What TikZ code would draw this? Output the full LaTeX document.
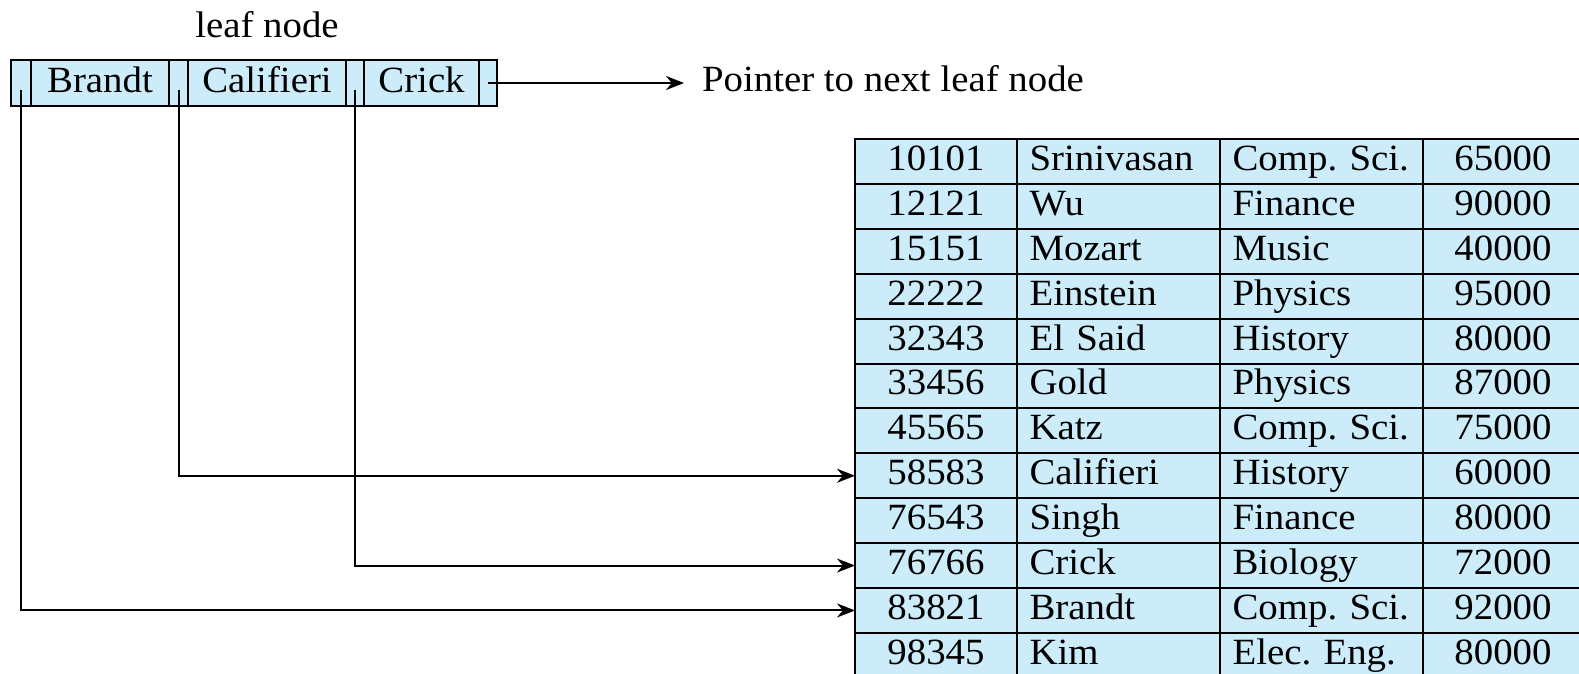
\documentclass[tikz,border=0pt]{standalone}
\usepackage{fontspec}
\setmainfont{Liberation Serif}[FakeStretch=1.05]
\usetikzlibrary{positioning,arrows.meta}
\definecolor{leafBlue}{RGB}{204,236,249}
\frenchspacing

\begin{document}
\begin{tikzpicture}[x=0.5pt,y=-0.5pt,line width=1pt,
		font=\fontsize{18.5}{22}\selectfont,
		txt/.style={inner sep=0pt,outer sep=0pt,text height=13pt,text depth=4pt},
		box/.style={txt,draw,fill=leafBlue,minimum height=23pt,text depth=3pt},
		row/.style={txt,draw,fill=leafBlue,minimum height=22.45pt},
		idcell/.style={row,minimum width=81pt},
		leftcell/.style={row,text width=89pt,inner xsep=6.25pt,align=left},
		salcell/.style={row,minimum width=80pt},
		ptr/.style={line width=1pt,-{Stealth[length=9pt,width=7pt]}}]
		\useasboundingbox (0,0) rectangle (1579,674);
		%\draw[help lines,step=50] (0,0) grid (1579,674);

		% the leaf node
		\node[box,minimum width=10pt,anchor=north west] (p1) at (11,60) {};
		\node[box,minimum width=69pt,right=0pt of p1] (k1) {Brandt};
		\node[box,minimum width=9.5pt,right=0pt of k1] (p2) {};
		\node[box,minimum width=79pt,right=0pt of p2] (k2) {Califieri};
		\node[box,minimum width=9pt,right=0pt of k2] (p3) {};
		\node[box,minimum width=57.5pt,right=0pt of p3] (k3) {Crick};
		\node[box,minimum width=9pt,right=0pt of k3] (p4) {};
		\node[txt,above=7pt of k2] (leaflabel) {leaf node};
		\node[txt,anchor=west,inner xsep=9pt] (nextleaf) at (684,83) {Pointer to next leaf node};

		% the file of records
		\foreach \id/\name/\dept/\sal [count=\r] in {10101/Srinivasan/Comp. Sci./65000,
				12121/Wu/Finance/90000, 15151/Mozart/Music/40000,
				22222/Einstein/Physics/95000, 32343/El Said/History/80000,
				33456/Gold/Physics/87000, 45565/Katz/Comp. Sci./75000,
				58583/Califieri/History/60000, 76543/Singh/Finance/80000,
				76766/Crick/Biology/72000, 83821/Brandt/Comp. Sci./92000,
				98345/Kim/Elec. Eng./80000} {
			\pgfmathsetmacro{\rowy}{139+(\r-0.5)*44.9}
			\node[idcell] (id\r) at (936,\rowy) {\id};
			\node[leftcell,right=0pt of id\r] (name\r) {\mbox{\name}};
			\node[leftcell,right=0pt of name\r] (dept\r) {\mbox{\dept}};
			\node[salcell,right=0pt of dept\r] (sal\r) {\sal};
		}

		\draw[ptr] (p4.center) -- (nextleaf.west);
		\draw[ptr] ([yshift=-3.5pt]p2.center) |- (id8.west);
		\draw[ptr] ([yshift=-3.5pt]p3.center) |- (id10.west);
		\draw[ptr] ([yshift=-3.5pt]p1.center) |- (id11.west);
\end{tikzpicture}
\end{document}
